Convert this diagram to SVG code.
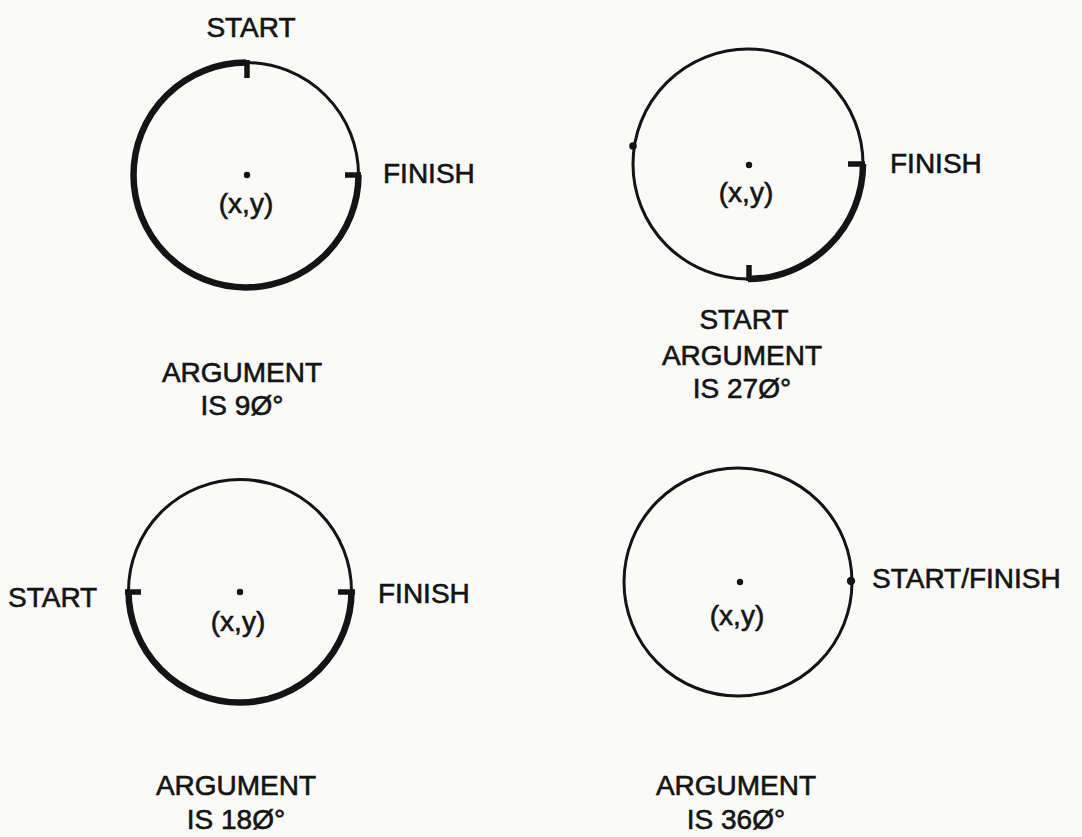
<svg xmlns="http://www.w3.org/2000/svg" width="1082" height="837" viewBox="0 0 1082 837">
<style>
.thin{fill:none;stroke:#141414;stroke-width:3}
.thick{fill:none;stroke:#141414;stroke-width:6.5;stroke-linecap:butt}
.tick{stroke:#141414;stroke-width:5.5;stroke-linecap:butt}
.dot{fill:#141414}
text{font-family:"Liberation Sans",Arial,sans-serif;font-size:28px;fill:#141414;stroke:#141414;stroke-width:0.6}
.c{text-anchor:middle}
</style>
<rect width="1082" height="837" fill="#fafaf8"/>
<g id="circle-90">
<circle class="thin" cx="246" cy="175" r="112.5"/>
<path class="thick" d="M246 62.5 A112.5 112.5 0 1 0 358.5 175"/>
<line class="tick" x1="247" y1="60" x2="247" y2="78"/>
<line class="tick" x1="345" y1="175" x2="361" y2="175"/>
<circle class="dot" cx="247" cy="175" r="3.2"/>
<text class="c" x="246" y="213">(x,y)</text>
<text class="c" x="251" y="37">START</text>
<text x="383" y="183">FINISH</text>
<text class="c" x="242" y="382">ARGUMENT</text>
<text class="c" x="242" y="415">IS 9Ø°</text>
</g>
<g id="circle-270">
<circle class="thin" cx="748" cy="164" r="115"/>
<path class="thick" d="M748 279 A115 115 0 0 0 863 164"/>
<line class="tick" x1="749" y1="265" x2="749" y2="281"/>
<line class="tick" x1="848" y1="164" x2="865" y2="164"/>
<circle class="dot" cx="749" cy="165" r="3.2"/>
<circle class="dot" cx="633" cy="146" r="3.8"/>
<text class="c" x="746" y="202">(x,y)</text>
<text x="890" y="173">FINISH</text>
<text class="c" x="744" y="329">START</text>
<text class="c" x="742" y="365">ARGUMENT</text>
<text class="c" x="742" y="398">IS 27Ø°</text>
</g>
<g id="circle-180">
<circle class="thin" cx="240" cy="591" r="111.5"/>
<path class="thick" d="M128.5 591 A111.5 111.5 0 0 0 351.5 591"/>
<line class="tick" x1="125" y1="592" x2="141" y2="592"/>
<line class="tick" x1="338" y1="592" x2="355" y2="592"/>
<circle class="dot" cx="240" cy="592" r="3.2"/>
<text class="c" x="238" y="631">(x,y)</text>
<text x="8" y="607">START</text>
<text x="378" y="603">FINISH</text>
<text class="c" x="236" y="795">ARGUMENT</text>
<text class="c" x="236" y="829">IS 18Ø°</text>
</g>
<g id="circle-360">
<circle class="thin" cx="738" cy="582" r="114"/>
<circle class="dot" cx="851" cy="581" r="4.2"/>
<circle class="dot" cx="740" cy="582" r="3.2"/>
<text class="c" x="737" y="625">(x,y)</text>
<text x="872" y="588">START/FINISH</text>
<text class="c" x="736" y="795">ARGUMENT</text>
<text class="c" x="736" y="829">IS 36Ø°</text>
</g>
<g id="connectors"></g>
</svg>
